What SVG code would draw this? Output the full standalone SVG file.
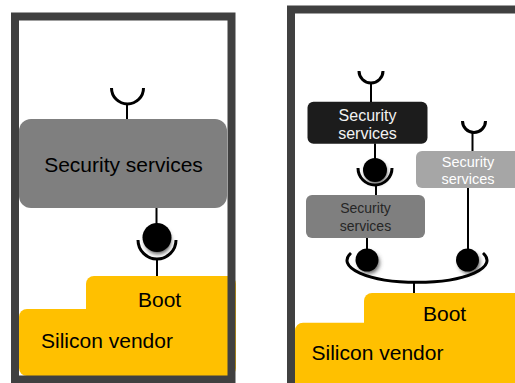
<svg xmlns="http://www.w3.org/2000/svg" width="515" height="383" viewBox="0 0 515 383">
<style>
  .frame{fill:none;stroke:#404040;stroke-width:8}
  .wire{stroke:#000;stroke-width:2;fill:none}
  .cup{stroke:#000;stroke-width:3;fill:none}
  .ball{fill:#000}
  .shadow{fill:#555;filter:url(#blur)}
  .boot{fill:#ffc000}
  text{font-family:"Liberation Sans",Arial,sans-serif}
  .big{font-size:21px;fill:#000}
</style>
<defs>
  <filter id="blur" x="-50%" y="-50%" width="200%" height="200%"><feGaussianBlur stdDeviation="2"/></filter>
</defs>
<rect width="515" height="383" fill="#fff"/>

<!-- Left panel -->
<g id="left-boot">
  <rect class="boot" x="86" y="276" width="150" height="60" rx="8"/>
  <rect class="boot" x="19" y="309" width="217" height="67" rx="8"/>
  <text class="big" x="138" y="307" font-size="20.5">Boot</text>
  <text class="big" x="41" y="348">Silicon vendor</text>
</g>
<g id="left-security">
  <rect x="19" y="119" width="208" height="89" rx="12" fill="#7f7f7f"/>
  <text class="big" x="123.5" y="172" text-anchor="middle">Security services</text>
</g>
<g id="left-connectors">
  <path class="cup" d="M111.5 88 A16 16 0 0 0 143.5 88"/>
  <line class="wire" x1="127" y1="104" x2="127" y2="119"/>
  <line class="wire" x1="156.5" y1="208" x2="156.5" y2="224"/>
  <circle class="shadow" cx="158" cy="241" r="13"/>
  <path class="cup" d="M138 240 A19 19 0 0 0 176 240"/>
  <circle class="ball" cx="157" cy="237.5" r="14.5"/>
  <line class="wire" x1="157" y1="259" x2="157" y2="276"/>
</g>
<rect class="frame" x="15" y="16.5" width="216.5" height="363"/>

<!-- Right panel -->
<g id="right-boot">
  <rect class="boot" x="364" y="293" width="160" height="60" rx="8"/>
  <rect class="boot" x="295" y="322.7" width="230" height="70" rx="8"/>
  <text class="big" x="423" y="321">Boot</text>
  <text class="big" x="311.5" y="360">Silicon vendor</text>
</g>
<g id="right-security-top">
  <rect x="307.5" y="101.7" width="120" height="42" rx="6" fill="#1c1c1c"/>
  <text x="367.5" y="121" font-size="16" fill="#f2f2f2" text-anchor="middle">Security</text>
  <text x="367.5" y="139" font-size="16" fill="#f2f2f2" text-anchor="middle">services</text>
</g>
<g id="right-security-mid">
  <rect x="306" y="195" width="119" height="43" rx="6" fill="#7f7f7f"/>
  <text x="365.5" y="213" font-size="14" fill="#262626" text-anchor="middle">Security</text>
  <text x="365.5" y="230.5" font-size="14" fill="#262626" text-anchor="middle">services</text>
</g>
<g id="right-security-side">
  <rect x="416" y="151" width="110" height="37" rx="6" fill="#a6a6a6"/>
  <text x="468" y="166.5" font-size="14.5" fill="#fff" text-anchor="middle">Security</text>
  <text x="468" y="183.5" font-size="14.5" fill="#fff" text-anchor="middle">services</text>
</g>
<g id="right-connectors">
  <path class="cup" d="M359 71 A12 12 0 0 0 383 71"/>
  <line class="wire" x1="371" y1="82" x2="371" y2="102"/>
  <path class="cup" d="M462.5 121 A11.5 11.5 0 0 0 485.5 121"/>
  <line class="wire" x1="472.5" y1="132" x2="472.5" y2="151"/>
  <line class="wire" x1="375" y1="143.5" x2="375" y2="159"/>
  <circle class="shadow" cx="376" cy="173" r="11"/>
  <path class="cup" d="M358 168 A17 17 0 0 0 392 168"/>
  <circle class="ball" cx="375" cy="170" r="12"/>
  <line class="wire" x1="376" y1="185" x2="376" y2="195"/>
  <line class="wire" x1="367" y1="238" x2="367" y2="250"/>
  <line class="wire" x1="468" y1="188" x2="468" y2="250"/>
  <circle class="shadow" cx="369" cy="263" r="10.5"/>
  <circle class="shadow" cx="469.5" cy="263" r="10.5"/>
  <circle class="ball" cx="367" cy="260" r="11.5"/>
  <circle class="ball" cx="467.5" cy="260" r="11.5"/>
  <path class="cup" d="M351 253 A70 22 0 1 0 483 253"/>
  <line class="wire" x1="414" y1="281" x2="414" y2="293"/>
</g>
<rect class="frame" x="291" y="9.5" width="300" height="400"/>
</svg>
